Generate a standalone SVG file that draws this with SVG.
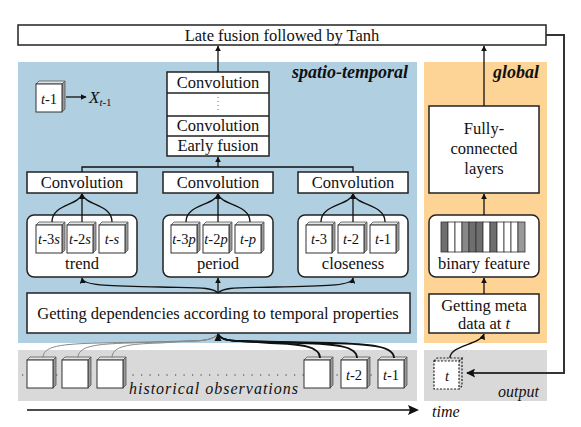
<svg xmlns="http://www.w3.org/2000/svg" width="581" height="427" viewBox="0 0 581 427">
<style>
svg text, svg tspan{font-family:'Liberation Serif','Times New Roman',serif;}
.zl{font-size:16.5px;text-anchor:middle;}
.zi{font-style:italic;}
.zb{font-style:italic;font-weight:bold;font-size:18px;text-anchor:end;}
.zc{font-size:14.5px;text-anchor:middle;}
.zbox{fill:#fff;stroke:#222;stroke-width:1.5;}
.zln{fill:none;stroke:#111;stroke-width:1.3;}
.zlnb{fill:none;stroke:#111;stroke-width:1.8;}
.zlng{fill:none;stroke:#888;stroke-width:1;}
.ztop{fill:#e4e4e4;stroke:#555;stroke-width:0.8;}
.zside{fill:#9a9a9a;stroke:#555;stroke-width:0.8;}
.zfront{fill:#fff;stroke:#333;stroke-width:1;}
</style>
<defs>
<marker id="ah" viewBox="0 0 10 10" refX="9" refY="5" markerWidth="6" markerHeight="6" orient="auto-start-reverse" markerUnits="userSpaceOnUse">
<path d="M0,0 L10,5 L0,10 Z" fill="#111"/>
</marker>
<marker id="ahb" viewBox="0 0 10 10" refX="9" refY="5" markerWidth="9" markerHeight="9" orient="auto" markerUnits="userSpaceOnUse">
<path d="M0,0 L10,5 L0,10 L2,5 Z" fill="#111"/>
</marker>
<g id="cube">
<path class="ztop" d="M0,3 L3,0 L29,0 L26,3 Z"/>
<path class="zside" d="M26,3 L29,0 L29,28 L26,31 Z"/>
<rect class="zfront" x="0" y="3" width="26" height="28"/>
</g>
</defs>
<g fill="#111">

<g id="panels">
<rect x="18" y="62" width="399" height="281" fill="#b0cfe1"/>
<rect x="424" y="62" width="123" height="281" fill="#fdd496"/>
<rect x="18" y="350" width="399" height="51" fill="#d9d9d9"/>
<rect x="424" y="350" width="123" height="51" fill="#d9d9d9"/>
<text font-family="Liberation Serif" class="zb" x="408" y="78">spatio-temporal</text>
<text font-family="Liberation Serif" class="zb" x="539" y="78">global</text>
</g>

<g id="late-fusion">
<rect class="zbox" x="18" y="25" width="528" height="20"/>
<text font-family="Liberation Serif" class="zl" x="282" y="40.5" font-size="17">Late fusion followed by Tanh</text>
</g>

<g id="legend">
<use href="#cube" x="36" y="81"/>
<text font-family="Liberation Serif" class="zc" x="49" y="104"><tspan class="zi">t</tspan>-1</text>
<text font-family="Liberation Serif" x="89" y="103" font-size="17" class="zi">X<tspan font-size="11" dy="3">t</tspan><tspan font-size="11" font-style="normal">-1</tspan></text>
</g>

<g id="stack">
<rect class="zbox" x="167" y="72" width="102" height="84"/>
<line x1="167" y1="93" x2="269" y2="93" stroke="#222" stroke-width="1.3"/>
<line x1="167" y1="116" x2="269" y2="116" stroke="#222" stroke-width="1.3"/>
<line x1="167" y1="136" x2="269" y2="136" stroke="#222" stroke-width="1.3"/>
<text font-family="Liberation Serif" class="zl" x="218" y="88">Convolution</text>
<line x1="218" y1="97" x2="218" y2="113" stroke="#666" stroke-width="1" stroke-dasharray="1 3"/>
<text font-family="Liberation Serif" class="zl" x="218" y="131">Convolution</text>
<text font-family="Liberation Serif" class="zl" x="218" y="151">Early fusion</text>
</g>

<g id="conv-trend"><rect class="zbox" x="27" y="172" width="110" height="21"/><text font-family="Liberation Serif" class="zl" x="82" y="188">Convolution</text></g>
<g id="conv-period"><rect class="zbox" x="163" y="172" width="110" height="21"/><text font-family="Liberation Serif" class="zl" x="218" y="188">Convolution</text></g>
<g id="conv-closeness"><rect class="zbox" x="298" y="172" width="110" height="21"/><text font-family="Liberation Serif" class="zl" x="353" y="188">Convolution</text></g>

<g id="trend">
<rect class="zbox" x="27" y="215" width="110" height="62" rx="7"/>
<use href="#cube" x="36" y="222"/><use href="#cube" x="67" y="222"/><use href="#cube" x="99" y="222"/>
<text font-family="Liberation Serif" class="zc" x="49" y="244"><tspan class="zi">t</tspan>-3<tspan class="zi">s</tspan></text>
<text font-family="Liberation Serif" class="zc" x="80" y="244"><tspan class="zi">t</tspan>-2<tspan class="zi">s</tspan></text>
<text font-family="Liberation Serif" class="zc" x="112" y="244"><tspan class="zi">t</tspan>-<tspan class="zi">s</tspan></text>
<text font-family="Liberation Serif" class="zl" x="82" y="269">trend</text>
</g>

<g id="period">
<rect class="zbox" x="163" y="215" width="110" height="62" rx="7"/>
<use href="#cube" x="171" y="222"/><use href="#cube" x="203" y="222"/><use href="#cube" x="235" y="222"/>
<text font-family="Liberation Serif" class="zc" x="184" y="244"><tspan class="zi">t</tspan>-3<tspan class="zi">p</tspan></text>
<text font-family="Liberation Serif" class="zc" x="216" y="244"><tspan class="zi">t</tspan>-2<tspan class="zi">p</tspan></text>
<text font-family="Liberation Serif" class="zc" x="248" y="244"><tspan class="zi">t</tspan>-<tspan class="zi">p</tspan></text>
<text font-family="Liberation Serif" class="zl" x="218" y="269">period</text>
</g>

<g id="closeness">
<rect class="zbox" x="298" y="215" width="110" height="62" rx="7"/>
<use href="#cube" x="306" y="222"/><use href="#cube" x="338" y="222"/><use href="#cube" x="370" y="222"/>
<text font-family="Liberation Serif" class="zc" x="319" y="244"><tspan class="zi">t</tspan>-3</text>
<text font-family="Liberation Serif" class="zc" x="351" y="244"><tspan class="zi">t</tspan>-2</text>
<text font-family="Liberation Serif" class="zc" x="383" y="244"><tspan class="zi">t</tspan>-1</text>
<text font-family="Liberation Serif" class="zl" x="353" y="269">closeness</text>
</g>

<g id="dependencies">
<rect class="zbox" x="27" y="293" width="383" height="40"/>
<text font-family="Liberation Serif" class="zl" x="218" y="319" font-size="17.2">Getting dependencies according to temporal properties</text>
</g>

<g id="fc">
<rect class="zbox" x="429" y="106" width="110" height="87"/>
<text font-family="Liberation Serif" class="zl" x="484" y="134">Fully-</text>
<text font-family="Liberation Serif" class="zl" x="484" y="154">connected</text>
<text font-family="Liberation Serif" class="zl" x="484" y="174">layers</text>
</g>

<g id="binary">
<rect class="zbox" x="429" y="215" width="110" height="62" rx="7"/>
<g stroke="#333" stroke-width="0.8">
<rect x="441" y="222" width="7" height="30" fill="#6e6e6e"/>
<rect x="448" y="222" width="7" height="30" fill="#fff"/>
<rect x="455" y="222" width="7" height="30" fill="#fff"/>
<rect x="462" y="222" width="7" height="30" fill="#888"/>
<rect x="469" y="222" width="7" height="30" fill="#6e6e6e"/>
<rect x="476" y="222" width="7" height="30" fill="#6e6e6e"/>
<rect x="483" y="222" width="7" height="30" fill="#fff"/>
<rect x="490" y="222" width="7" height="30" fill="#6e6e6e"/>
<rect x="497" y="222" width="7" height="30" fill="#fff"/>
<rect x="504" y="222" width="7" height="30" fill="#fff"/>
<rect x="511" y="222" width="7" height="30" fill="#fff"/>
<rect x="518" y="222" width="7" height="30" fill="#999"/>
</g>
<text font-family="Liberation Serif" class="zl" x="484" y="269">binary feature</text>
</g>

<g id="meta">
<rect class="zbox" x="429" y="294" width="110" height="39"/>
<text font-family="Liberation Serif" class="zl" x="484" y="311">Getting meta</text>
<text font-family="Liberation Serif" class="zl" x="484" y="329">data at <tspan class="zi">t</tspan></text>
</g>

<g id="history">
<line x1="22" y1="375" x2="382" y2="375" stroke="#333" stroke-width="1.2" stroke-dasharray="1.2 7.3"/>
<use href="#cube" x="27" y="357"/><use href="#cube" x="62" y="357"/><use href="#cube" x="97" y="357"/>
<use href="#cube" x="304" y="357"/><use href="#cube" x="341" y="357"/><use href="#cube" x="378" y="357"/>
<text font-family="Liberation Serif" class="zc" x="354" y="380"><tspan class="zi">t</tspan>-2</text>
<text font-family="Liberation Serif" class="zc" x="391" y="380"><tspan class="zi">t</tspan>-1</text>
<text font-family="Liberation Serif" class="zi" x="129" y="394" font-size="16" textLength="169" lengthAdjust="spacing">historical observations</text>
</g>

<g id="output">
<g fill="none" stroke="#222" stroke-width="1.2" stroke-dasharray="2 1.5">
<rect x="434" y="361" width="25" height="28" fill="#fff"/>
<path d="M434,361 L437,358 L462,358 L459,361"/>
<path d="M462,358 L462,386 L459,389"/>
</g>
<text font-family="Liberation Serif" class="zc zi" x="447" y="381">t</text>
<text font-family="Liberation Serif" class="zi" x="539" y="397" font-size="16" text-anchor="end">output</text>
</g>

<g id="time">
<line x1="27" y1="410" x2="410" y2="410" stroke="#111" stroke-width="1.5"/>
<path d="M419,410 L408,405 L410,410 L408,415 Z" fill="#111"/>
<text font-family="Liberation Serif" class="zi" x="432" y="417" font-size="16">time</text>
</g>

<g id="connectors">
<line class="zln" x1="218" y1="72" x2="218" y2="46" marker-end="url(#ah)"/>
<line class="zln" x1="484" y1="106" x2="484" y2="46" marker-end="url(#ah)"/>
<path d="M546,35 L564,35 L564,373 L467,373" fill="none" stroke="#333" stroke-width="2" marker-end="url(#ahb)"/>
<line class="zln" x1="66" y1="97" x2="86" y2="97" marker-end="url(#ah)"/>
<path class="zln" d="M82,172 L82,167 L353,167 L353,172"/>
<line class="zln" x1="218" y1="167" x2="218" y2="157" marker-end="url(#ah)"/>
<path class="zln" d="M52,222 C52,204 78,206 82,194"/>
<path class="zln" d="M112,222 C112,204 86,206 82,194"/>
<line class="zln" x1="82" y1="222" x2="82" y2="194" marker-end="url(#ah)"/>
<path class="zln" d="M186,222 C186,204 214,206 218,194"/>
<path class="zln" d="M250,222 C250,204 222,206 218,194"/>
<line class="zln" x1="218" y1="222" x2="218" y2="194" marker-end="url(#ah)"/>
<path class="zln" d="M321,222 C321,204 349,206 353,194"/>
<path class="zln" d="M385,222 C385,204 357,206 353,194"/>
<line class="zln" x1="353" y1="222" x2="353" y2="194" marker-end="url(#ah)"/>
<path class="zln" d="M218,293 C212,287 200,288 160,287 C110,286 83,286 82,278" marker-end="url(#ah)"/>
<line class="zln" x1="218" y1="293" x2="218" y2="278" marker-end="url(#ah)"/>
<path class="zln" d="M218,293 C224,287 236,288 276,287 C326,286 352,286 353,278" marker-end="url(#ah)"/>
<path class="zlng" d="M43,358 C43,346 60,344 100,343 L190,341 C205,341 214,339 218,334"/>
<path class="zlng" d="M78,358 C78,346 95,344 130,343 L190,341 C205,341 214,339 218,334"/>
<path class="zlng" d="M112,358 C112,346 128,344 160,343 L190,341 C205,341 214,339 218,334"/>
<path class="zlnb" d="M320,358 C320,346 300,344 270,343 L240,341 C228,341 220,339 218,334"/>
<path class="zlnb" d="M357,358 C357,346 335,344 300,343 L240,341 C228,341 220,339 218,334"/>
<path class="zlnb" d="M394,358 C394,346 370,344 330,343 L240,341 C228,341 220,339 218,334"/>
<path d="M218,333 L214.5,341 L221.5,341 Z" fill="#111"/>
<line class="zln" x1="484" y1="215" x2="484" y2="194" marker-end="url(#ah)"/>
<line class="zln" x1="484" y1="294" x2="484" y2="278" marker-end="url(#ah)"/>
<path class="zln" d="M450,358 C450,345 480,345 484,334" marker-end="url(#ah)"/>
</g>
</g>
</svg>
